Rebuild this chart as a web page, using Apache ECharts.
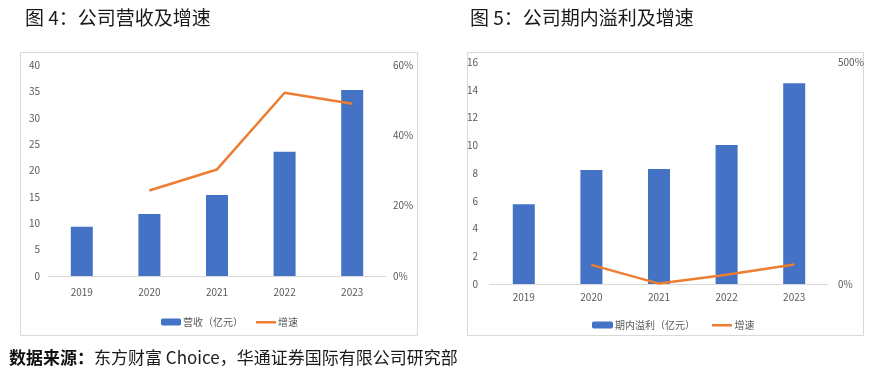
<!DOCTYPE html>
<html><head><meta charset="utf-8">
<script src="https://cdn.jsdelivr.net/npm/echarts@6/dist/echarts.min.js"></script>
<style>html,body{margin:0;padding:0;background:#fff}#c{width:869px;height:379px}</style>
</head><body><div id="c"></div>
<script>
const years = ['2019','2020','2021','2022','2023'];
const revenue = [9.35, 11.75, 15.36, 23.57, 35.26];
const revenueGrowth = [null, 24.3, 30.3, 52.1, 49.0];
const profit = [5.74, 8.22, 8.29, 10.02, 14.46];
const profitGrowth = [null, 43, 0.9, 21, 44];
const leftTicks = {min:0, max:40, interval:5};
const leftPct = {min:0, max:60, interval:20};
const rightTicks = {min:0, max:16, interval:2};
const rightPct = {min:0, max:500, interval:500};

const FONT = '"Noto Sans CJK SC", "Noto Sans", sans-serif';
const BLUE = '#4472C4', ORANGE = '#ED7D31', GRAY = '#595959';
const LINE_ICON = 'path://M0,0 M0,2.5 L20,2.5 L20,5 L0,5 Z M20,7';
const chart = echarts.init(document.getElementById('c'));
const lbl = {color: GRAY, fontSize: 10, fontFamily: FONT};
function xAx(gi, m){return {type:'category', gridIndex:gi, data:years,
  axisLine:{lineStyle:{color:'#d9d9d9'}}, axisTick:{show:false},
  axisLabel:Object.assign({margin:m}, lbl)};}
function yAx(gi, t, pos, m, fmt){return Object.assign({type:'value', gridIndex:gi, position:pos,
  axisLine:{show:false}, axisTick:{show:false}, splitLine:{show:false},
  axisLabel:Object.assign({margin:m, formatter:fmt}, lbl)}, t);}
const legText = {color:GRAY, fontSize:10, fontFamily:FONT, padding:[0,0,0,-3]};
chart.setOption({
  animation:false,
  title:[
    {text:'图 4：公司营收及增速', left:20, top:3, textStyle:{fontFamily:FONT, fontSize:19, fontWeight:'normal', color:'#1a1a1a'}},
    {text:'图 5：公司期内溢利及增速', left:465, top:3, textStyle:{fontFamily:FONT, fontSize:19, fontWeight:'normal', color:'#1a1a1a'}},
    {text:'{b|数据来源：}东方财富 Choice，华通证券国际有限公司研究部', left:4, top:344,
      textStyle:{fontFamily:FONT, fontSize:17, fontWeight:'normal', color:'#1a1a1a', rich:{b:{fontFamily:FONT, fontSize:17, fontWeight:'bold', color:'#111'}}}}
  ],
  graphic:[
    {type:'rect', shape:{x:20.5, y:52.5, width:397, height:283}, style:{fill:'none', stroke:'#d9d9d9', lineWidth:1}},
    {type:'rect', shape:{x:467.5, y:52.5, width:396, height:283}, style:{fill:'none', stroke:'#d9d9d9', lineWidth:1}}
  ],
  grid:[
    {left:48, top:65, width:338, height:211},
    {left:490, top:62, width:338, height:222}
  ],
  xAxis:[xAx(0, 11), xAx(1, 8)],
  yAxis:[
    yAx(0, leftTicks, 'left', 8),
    yAx(0, leftPct, 'right', 7, '{value}%'),
    yAx(1, rightTicks, 'left', 12),
    yAx(1, rightPct, 'right', 10, '{value}%')
  ],
  legend:[
    {left:156, top:312, itemWidth:20, itemHeight:7, itemGap:13, textStyle:legText,
      data:['营收（亿元）', {name:'增速', icon:LINE_ICON}]},
    {left:587, top:315, itemWidth:21, itemHeight:7, itemGap:17, textStyle:legText,
      data:['期内溢利（亿元）', {name:'增速2', icon:LINE_ICON}], formatter:function(n){return n==='增速2'?'增速':n;}}
  ],
  series:[
    {name:'营收（亿元）', type:'bar', xAxisIndex:0, yAxisIndex:0, data:revenue, barWidth:22, itemStyle:{color:BLUE}},
    {name:'增速', type:'line', xAxisIndex:0, yAxisIndex:1, data:revenueGrowth, symbol:'none', lineStyle:{color:ORANGE, width:2.5}, itemStyle:{color:ORANGE}},
    {name:'期内溢利（亿元）', type:'bar', xAxisIndex:1, yAxisIndex:2, data:profit, barWidth:22, itemStyle:{color:BLUE}},
    {name:'增速2', type:'line', xAxisIndex:1, yAxisIndex:3, data:profitGrowth, symbol:'none', lineStyle:{color:ORANGE, width:2.5}, itemStyle:{color:ORANGE}}
  ]
});
</script></body></html>
